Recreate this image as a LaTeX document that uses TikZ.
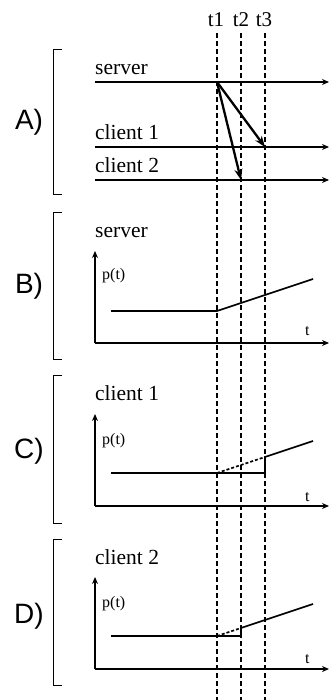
\documentclass[tikz,border=0pt]{standalone}
\usepackage{fontspec}
\setmainfont{Liberation Serif}
\newfontfamily\labfont{Liberation Sans}
\usetikzlibrary{arrows.meta}
\begin{document}
\begin{tikzpicture}[x=1pt,y=-1pt,
  line/.style={line width=1.6pt},
  timeline/.style={line width=1.6pt,-{Stealth[length=7pt,width=6pt]}},
  msg/.style={line width=2.3pt,-{Stealth[length=11pt,width=8pt]}},
  guide/.style={line width=1.1pt,dash pattern=on 5pt off 3pt},
  brk/.style={line width=1pt},
  lab/.style={font=\labfont\fontsize{28}{28}\selectfont,inner sep=0pt,anchor=base},
  txt/.style={font=\fontsize{21.5}{21.5}\selectfont,inner sep=0pt,anchor=base west},
  tlab/.style={font=\fontsize{21}{21}\selectfont,inner sep=0pt,anchor=base},
  small/.style={font=\fontsize{16}{16}\selectfont,inner sep=0pt,anchor=base west}]
\useasboundingbox (0,0) rectangle (329,700);
% time guides
\node[tlab] (t1) at (216,27) {t1};
\node[tlab] (t2) at (241,27) {t2};
\node[tlab] (t3) at (264,27) {t3};
\coordinate (g1) at (217,700);
\coordinate (g2) at (241,700);
\coordinate (g3) at (265,700);
\draw[guide] (217,33) -- (g1);
\draw[guide] (241,33) -- (g2);
\draw[guide] (265,33) -- (g3);
% brackets
\draw[brk] (62,50) -- (53,50) -- (53,195) -- (62,195);
\draw[brk] (62,213) -- (53,213) -- (53,359) -- (62,359);
\draw[brk] (62,375) -- (53,375) -- (53,523) -- (62,523);
\draw[brk] (62,539) -- (53,539) -- (53,685) -- (62,685);
\node[lab] (A) at (29,130) {A)};
\node[lab] (B) at (29,293) {B)};
\node[lab] (C) at (29,458) {C)};
\node[lab] (D) at (29,623) {D)};
% A) timelines
\coordinate (s0) at (95,82); \coordinate (s1) at (329,82);
\coordinate (c10) at (95,147); \coordinate (c11) at (329,147);
\coordinate (c20) at (95,180); \coordinate (c21) at (329,180);
\draw[timeline] (s0) -- (s1);
\draw[timeline] (c10) -- (c11);
\draw[timeline] (c20) -- (c21);
\node[txt] (ls) at (95,75) {server};
\node[txt] (lc1) at (95,140) {client 1};
\node[txt] (lc2) at (95,173) {client 2};
\coordinate (snd) at (217,82);
\coordinate (r1) at (265,147);
\coordinate (r2) at (241,180);
\draw[msg] (snd) -- (r1);
\draw[msg] (snd) -- (r2);
% B) server
\coordinate (Bo) at (95,343);
\draw[timeline] (Bo) -- (95,251);
\draw[timeline] (Bo) -- (329,343);
\node[txt] (Bl) at (95,238) {server};
\node[small] (Bp) at (102,279) {p(t)};
\node[small] (Bt) at (305,335) {t};
\draw[line] (111,311) -- (217,311) -- (313,279);
% C) client 1
\coordinate (Co) at (95,506);
\draw[timeline] (Co) -- (95,414);
\draw[timeline] (Co) -- (329,506);
\node[txt] (Cl) at (95,400) {client 1};
\node[small] (Cp) at (102,444) {p(t)};
\node[small] (Ct) at (305,501) {t};
\draw[line] (111,473) -- (265,473) -- (265,457) -- (313,441);
\draw[line,dash pattern=on 3pt off 2pt] (217,473) -- (265,457);
% D) client 2
\coordinate (Do) at (95,669);
\draw[timeline] (Do) -- (95,577);
\draw[timeline] (Do) -- (329,669);
\node[txt] (Dl) at (95,564) {client 2};
\node[small] (Dp) at (102,607) {p(t)};
\node[small] (Dt) at (305,663) {t};
\draw[line] (111,636) -- (241,636) -- (241,628) -- (313,604);
\draw[line,dash pattern=on 3pt off 2pt] (217,636) -- (241,628);
\end{tikzpicture}
\end{document}
